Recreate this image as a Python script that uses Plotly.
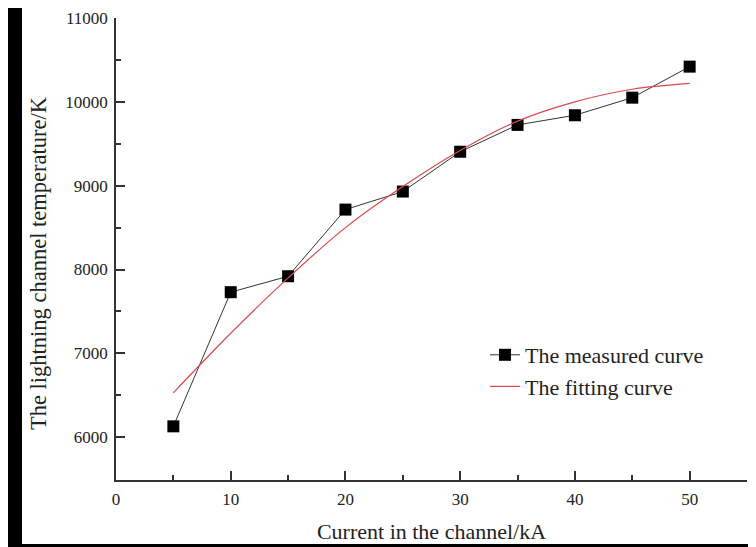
import plotly.graph_objects as go

current_ka = [5, 10, 15, 20, 25, 30, 35, 40, 45, 50]
measured_k = [6130, 7730, 7920, 8715, 8930, 9405, 9725, 9840, 10050, 10420]
fitting_k = [6530, 7240, 7900, 8500, 8990, 9420, 9770, 10000, 10150, 10220]

x_title = "Current in the channel/kA"
y_title = "The lightning channel temperature/K"
measured_name = "The measured curve"
fitting_name = "The fitting curve"

FONT = "Liberation Serif"

fig = go.Figure()
fig.add_trace(go.Scatter(
    x=current_ka, y=measured_k, mode="lines+markers", name=measured_name,
    line=dict(color="#333333", width=1),
    marker=dict(symbol="square", size=12, color="black"),
))
fig.add_trace(go.Scatter(
    x=current_ka, y=fitting_k, mode="lines", name=fitting_name,
    line=dict(color="#d9484c", width=1.2, shape="spline"),
))

# page shows the figure offset by 8px; geometry given in figure pixels
W, H = 748, 539
L, R, T, B = 108, 9, 10, 67
pw, ph = W - L - R, H - T - B

def px_x(p):
    return (p - L) / pw

def px_y(p):
    return (H - B - p) / ph

fig.add_shape(type="rect", xref="paper", yref="paper",
              x0=px_x(14), x1=px_x(743), y0=px_y(536), y1=px_y(-10),
              fillcolor="white", line=dict(width=0), layer="below")

fig.add_annotation(text=y_title, textangle=-90, xref="paper", yref="paper",
                   x=px_x(30), y=px_y(255), xanchor="center", yanchor="middle",
                   showarrow=False, font=dict(family=FONT, size=22.5, color="#222222"))

axis_common = dict(
    showline=True, linecolor="#333333", linewidth=1.5, automargin=False,
    ticks="inside", ticklen=9, tickwidth=1.5, tickcolor="#333333",
    showgrid=False, zeroline=False, tickformat="d", ticklabeloverflow="allow",
    tickfont=dict(family=FONT, size=17, color="#222222"),
)

fig.update_layout(
    width=W, height=H,
    margin=dict(l=L, r=R, t=T, b=B, pad=0, autoexpand=False),
    paper_bgcolor="black",
    plot_bgcolor="rgba(0,0,0,0)",
    font=dict(family=FONT, color="#222222"),
    xaxis=dict(range=[0, 55], dtick=10, tick0=0, ticklabelstandoff=3,
               minor=dict(ticks="inside", ticklen=5, dtick=5, tickwidth=1.5, tickcolor="#333333"),
               title=dict(text=x_title, font=dict(family=FONT, size=22, color="#222222"), standoff=15),
               **axis_common),
    yaxis=dict(range=[5490, 11000], dtick=1000, tick0=0, ticklabelstandoff=3,
               minor=dict(ticks="inside", ticklen=5, dtick=500, tickwidth=1.5, tickcolor="#333333"),
               **axis_common),
    showlegend=True,
    legend=dict(x=px_x(477), y=px_y(326), xanchor="left", yanchor="top",
                bgcolor="rgba(0,0,0,0)", borderwidth=0,
                font=dict(family=FONT, size=22, color="#222222"),
                tracegroupgap=0),
)

fig.write_html("out.html")
